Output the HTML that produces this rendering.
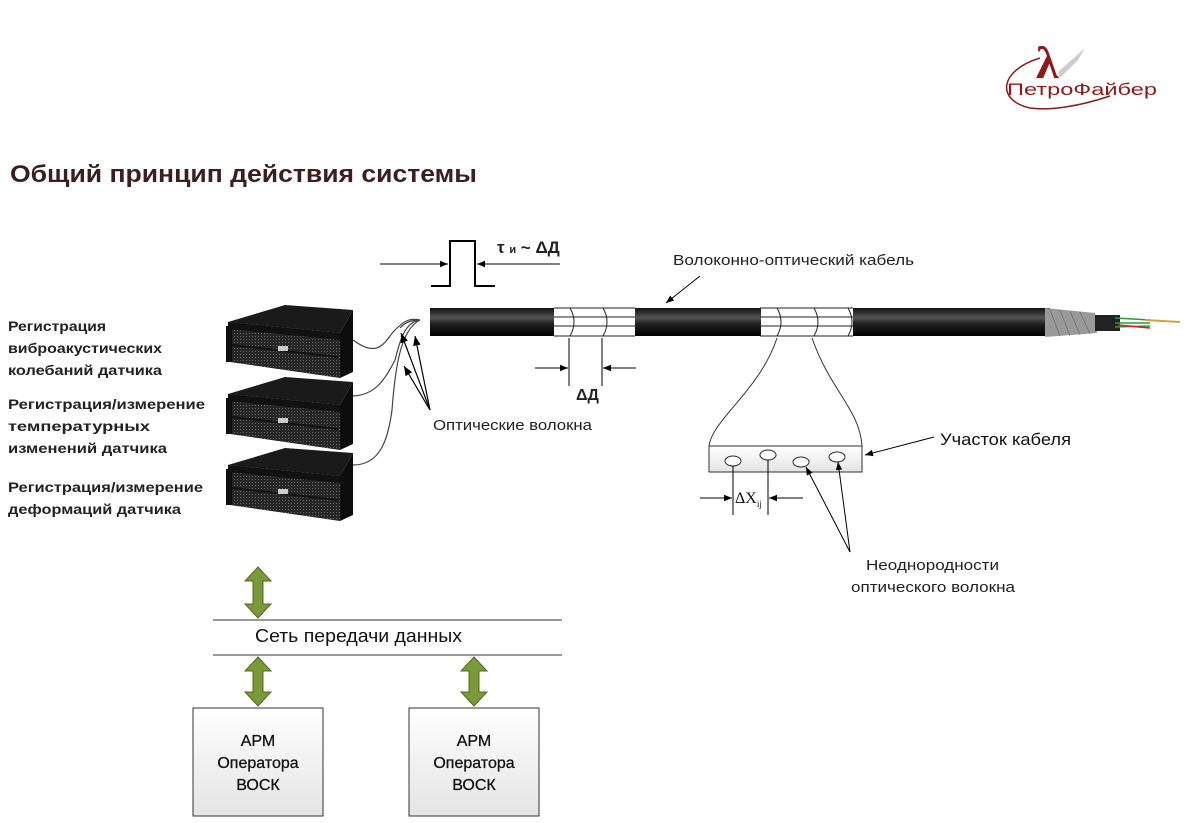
<!DOCTYPE html>
<html><head><meta charset="utf-8"><style>
html,body{margin:0;padding:0;background:#fff;}
svg{display:block;font-family:"Liberation Sans","DejaVu Sans",sans-serif;}
</style></head><body>
<svg width="1188" height="823" viewBox="0 0 1188 823" xmlns="http://www.w3.org/2000/svg">
<defs>
<marker id="ar" viewBox="0 0 10 10" refX="10" refY="5" markerWidth="8" markerHeight="8" orient="auto-start-reverse"><path d="M0,1 L10,5 L0,9 z" fill="#000"/></marker>
<linearGradient id="cab" x1="0" y1="0" x2="0" y2="1">
<stop offset="0" stop-color="#111"/><stop offset="0.35" stop-color="#555"/><stop offset="0.55" stop-color="#222"/><stop offset="1" stop-color="#000"/></linearGradient>
<linearGradient id="box" x1="0" y1="0" x2="0" y2="1"><stop offset="0" stop-color="#fff"/><stop offset="1" stop-color="#e4e4e4"/></linearGradient>
<pattern id="mesh" width="3" height="3" patternUnits="userSpaceOnUse"><rect width="3" height="3" fill="#262626"/><rect width="1" height="1" fill="#666"/></pattern>
<g id="srv">
<polygon points="228,322 285,305 353,310 340,333" fill="#1a1a1a"/>
<polygon points="340,333 353,310 353,372 340,378" fill="#0c0c0c"/>
<polygon points="228,322 340,333 340,378 230,362" fill="url(#mesh)"/>
<polygon points="228,322 340,333 340,340 228,329" fill="#111"/>
<line x1="232" y1="345" x2="338" y2="357" stroke="#111" stroke-width="2"/>
<rect x="226" y="326" width="6" height="36" fill="#111"/>
<rect x="278" y="346" width="10" height="5" fill="#ccc"/>
</g>
</defs>

<text x="10" y="182" font-size="24" font-weight="bold" fill="#3b1f1f" textLength="467" lengthAdjust="spacingAndGlyphs">Общий принцип действия системы</text>

<!-- logo -->
<path d="M1040,58 C1000,70 995,100 1030,108 C1050,111 1080,106 1110,96" fill="none" stroke="#8b1a1a" stroke-width="1.5"/>
<path d="M1058,72 L1085,48 L1078,60 L1060,78 z" fill="#ccc"/>
<text x="1036" y="78" font-size="46" font-weight="bold" font-family="Liberation Serif,serif" fill="#8b1a1a">λ</text>
<text x="1007" y="95" font-size="17" fill="#8b1a1a" textLength="150" lengthAdjust="spacingAndGlyphs">ПетроФайбер</text>

<g font-size="14" font-weight="bold" fill="#222" lengthAdjust="spacingAndGlyphs">
<text x="8" y="331" textLength="98" lengthAdjust="spacingAndGlyphs">Регистрация</text>
<text x="8" y="353" textLength="154" lengthAdjust="spacingAndGlyphs">виброакустических</text>
<text x="8" y="375" textLength="154" lengthAdjust="spacingAndGlyphs">колебаний датчика</text>
<text x="8" y="409" textLength="197" lengthAdjust="spacingAndGlyphs">Регистрация/измерение</text>
<text x="8" y="431" textLength="142" lengthAdjust="spacingAndGlyphs">температурных</text>
<text x="8" y="453" textLength="159" lengthAdjust="spacingAndGlyphs">изменений датчика</text>
<text x="8" y="492" textLength="195" lengthAdjust="spacingAndGlyphs">Регистрация/измерение</text>
<text x="8" y="514" textLength="173" lengthAdjust="spacingAndGlyphs">деформаций датчика</text>
</g>

<use href="#srv"/>
<use href="#srv" y="72"/>
<use href="#srv" y="143"/>

<g fill="none" stroke="#444" stroke-width="1.2">
<path d="M353,340 C380,360 385,340 395,330 C405,320 410,318 420,320"/>
<path d="M353,396 C375,395 385,380 395,360 C400,340 405,322 420,320"/>
<path d="M353,465 C380,465 388,440 392,410 C395,370 400,330 420,320"/>
<path d="M400,328 C405,322 412,320 420,320"/>
</g>
<g fill="none" stroke="#000" stroke-width="1.2">
<line x1="430" y1="410" x2="401" y2="333" marker-end="url(#ar)"/>
<line x1="430" y1="410" x2="404" y2="366" marker-end="url(#ar)"/>
<line x1="430" y1="410" x2="415" y2="336" marker-end="url(#ar)"/>
</g>
<text x="433" y="430" font-size="14.5" fill="#222" textLength="159" lengthAdjust="spacingAndGlyphs">Оптические волокна</text>

<path d="M431,286 L450,286 L450,241 L475,241 L475,286 L495,286" fill="none" stroke="#000" stroke-width="2"/>
<line x1="380" y1="264" x2="448" y2="264" stroke="#000" marker-end="url(#ar)"/>
<line x1="560" y1="264" x2="477" y2="264" stroke="#000" marker-end="url(#ar)"/>
<text x="497" y="253" font-size="17" font-weight="bold" fill="#222">τ <tspan font-size="11">и</tspan> ~ ΔД</text>

<rect x="430" y="308" width="124" height="28" fill="url(#cab)"/>
<rect x="635" y="308" width="126" height="28" fill="url(#cab)"/>
<rect x="853" y="308" width="197" height="28" fill="url(#cab)"/>
<g stroke="#222" stroke-width="1" fill="none">
<path d="M554,308 H635 M554,317 H635 M554,326 H635 M554,336 H635"/>
<path d="M760,308 H853 M760,317 H853 M760,326 H853 M760,336 H853"/>
<path d="M570,308 Q578,322 570,336 M603,308 Q611,322 603,336"/>
<path d="M777,308 Q785,322 777,336 M814,308 Q822,322 814,336 M848,308 Q856,322 848,336"/>
</g>
<polygon points="1045,308 1095,313 1097,333 1045,337" fill="#999"/>
<g stroke="#666" stroke-width="0.6"><path d="M1050,310 L1060,336 M1060,310 L1070,336 M1070,311 L1080,335 M1080,312 L1090,334"/></g>
<rect x="1095" y="315" width="25" height="16" fill="#222"/>
<path d="M1115,318 L1150,320 M1115,323 L1150,323 M1115,327 L1150,326" stroke="#2a9a3a" stroke-width="1.5"/>
<path d="M1118,325 L1150,328" stroke="#c22" stroke-width="1.5"/>
<path d="M1145,320 L1180,322" stroke="#d4a040" stroke-width="2"/>

<text x="673" y="265" font-size="14.5" fill="#222" textLength="241" lengthAdjust="spacingAndGlyphs">Волоконно-оптический кабель</text>
<line x1="700" y1="276" x2="666" y2="303" stroke="#000" marker-end="url(#ar)"/>

<line x1="569" y1="338" x2="569" y2="386" stroke="#000"/>
<line x1="602" y1="338" x2="602" y2="386" stroke="#000"/>
<line x1="535" y1="368" x2="568" y2="368" stroke="#000" marker-end="url(#ar)"/>
<line x1="636" y1="368" x2="603" y2="368" stroke="#000" marker-end="url(#ar)"/>
<text x="576" y="400" font-size="16" font-weight="bold" fill="#222">ΔД</text>

<path d="M777,338 C760,390 712,420 709,446" fill="none" stroke="#333"/>
<path d="M812,338 C830,390 860,410 862,446" fill="none" stroke="#333"/>
<rect x="709" y="446" width="153" height="26" fill="url(#box)" stroke="#333"/>
<g fill="#fff" stroke="#333"><ellipse cx="733" cy="461" rx="8" ry="5"/><ellipse cx="768" cy="455" rx="8" ry="5"/><ellipse cx="801" cy="462" rx="8" ry="5"/><ellipse cx="837" cy="457" rx="8" ry="5"/></g>
<line x1="733" y1="466" x2="733" y2="515" stroke="#000"/>
<line x1="768" y1="460" x2="768" y2="515" stroke="#000"/>
<line x1="700" y1="498" x2="732" y2="498" stroke="#000" marker-end="url(#ar)"/>
<line x1="803" y1="498" x2="769" y2="498" stroke="#000" marker-end="url(#ar)"/>
<text x="735" y="503" font-size="16" font-family="Liberation Serif,serif" fill="#111">ΔX<tspan font-size="9" dy="4">ij</tspan></text>
<text x="940" y="445" font-size="17" fill="#111" textLength="131" lengthAdjust="spacingAndGlyphs">Участок кабеля</text>
<line x1="934" y1="437" x2="865" y2="455" stroke="#000" marker-end="url(#ar)"/>
<line x1="850" y1="552" x2="806" y2="467" stroke="#000" marker-end="url(#ar)"/>
<line x1="850" y1="552" x2="838" y2="462" stroke="#000" marker-end="url(#ar)"/>
<text x="866" y="570" font-size="14.5" fill="#222" textLength="133" lengthAdjust="spacingAndGlyphs">Неоднородности</text>
<text x="851" y="592" font-size="14.5" fill="#222" textLength="164" lengthAdjust="spacingAndGlyphs">оптического волокна</text>

<line x1="213" y1="620" x2="562" y2="620" stroke="#333"/>
<line x1="213" y1="655" x2="562" y2="655" stroke="#333"/>
<text x="255" y="642" font-size="18" fill="#111" textLength="207" lengthAdjust="spacingAndGlyphs">Сеть передачи данных</text>
<g fill="#7a9a3a" stroke="#4f6a22" stroke-width="1">
<path d="M258,567 L271,581 L263,581 L263,604 L271,604 L258,618 L245,604 L253,604 L253,581 L245,581 z"/>
<path d="M258,657 L271,671 L263,671 L263,692 L271,692 L258,706 L245,692 L253,692 L253,671 L245,671 z"/>
<path d="M474,657 L487,671 L479,671 L479,692 L487,692 L474,706 L461,692 L469,692 L469,671 L461,671 z"/>
</g>
<rect x="193" y="708" width="130" height="108" fill="url(#box)" stroke="#333"/>
<rect x="409" y="708" width="130" height="108" fill="url(#box)" stroke="#333"/>
<g font-size="16" fill="#111" text-anchor="middle" stroke="#111" stroke-width="0.3">
<text x="258" y="746">АРМ</text><text x="258" y="768">Оператора</text><text x="258" y="790">ВОСК</text>
<text x="474" y="746">АРМ</text><text x="474" y="768">Оператора</text><text x="474" y="790">ВОСК</text>
</g>
</svg>
</body></html>
